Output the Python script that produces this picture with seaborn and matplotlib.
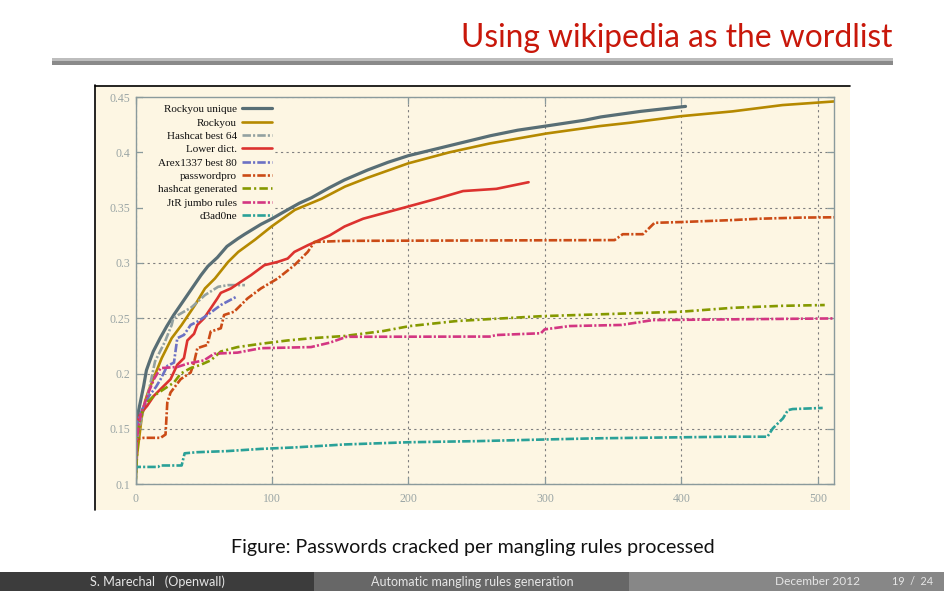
import numpy as np
import pandas as pd
import seaborn as sns
import matplotlib.pyplot as plt
from matplotlib.patches import Rectangle
from matplotlib.lines import Line2D

# values (rules processed, fraction cracked)
rockyou_unique_x = [0, 1, 2, 4, 6, 8, 10, 13, 18, 23, 28, 33, 38, 43, 48, 53, 60, 67, 75, 80, 92,
                    100, 107, 120, 129, 142, 153, 170, 185, 200, 220, 240, 260, 280, 302, 329, 341, 370, 403]
rockyou_unique_y = [0.100, 0.155, 0.165, 0.177, 0.189, 0.203, 0.210, 0.220, 0.232, 0.243, 0.253, 0.262,
                    0.271, 0.280, 0.289, 0.297, 0.305, 0.315, 0.322, 0.326, 0.335, 0.340, 0.345, 0.354,
                    0.359, 0.368, 0.375, 0.384, 0.391, 0.397, 0.403, 0.409, 0.415, 0.420, 0.424, 0.429,
                    0.432, 0.437, 0.4415]

rockyou_x = [0, 1, 2, 4.5, 7, 9.4, 14.3, 19.2, 26.5, 33.8, 43.6, 50.9, 58.2, 67.9, 75.3, 87.5, 99.7,
             116.8, 136.3, 153.4, 170, 199.7, 230, 259.5, 301, 340, 362, 400, 437.4, 474, 512]
rockyou_y = [0.100, 0.125, 0.135, 0.160, 0.175, 0.184, 0.199, 0.214, 0.232, 0.244, 0.262, 0.277, 0.286,
             0.301, 0.310, 0.321, 0.333, 0.348, 0.358, 0.369, 0.377, 0.390, 0.400, 0.408, 0.417,
             0.4237, 0.4267, 0.4327, 0.437, 0.4427, 0.446]

hashcat64_x = [0, 1, 4.5, 9, 14.3, 21.6, 26.5, 27.7, 31.3, 41.1, 50.9, 60.6, 67.9, 80.2]
hashcat64_y = [0.100, 0.140, 0.160, 0.180, 0.211, 0.229, 0.244, 0.250, 0.253, 0.260, 0.271, 0.2785,
               0.280, 0.280]

lower_x = [0, 1, 2, 3.7, 8.6, 13.5, 18.4, 25.7, 30.6, 35.5, 38, 42.9, 45.3, 50.2, 55.1, 60, 62.5,
           69.9, 77.2, 84.6, 94.4, 104.2, 111.5, 116.4, 126.2, 142.4, 153.2, 166.8, 199.7, 220.5,
           240, 264.4, 288]
lower_y = [0.105, 0.150, 0.159, 0.164, 0.171, 0.180, 0.186, 0.195, 0.208, 0.214, 0.230, 0.236, 0.244,
           0.250, 0.259, 0.268, 0.273, 0.277, 0.283, 0.289, 0.298, 0.301, 0.304, 0.310, 0.316,
           0.325, 0.333, 0.340, 0.351, 0.358, 0.365, 0.367, 0.373]

arex_x = [0, 1.5, 5, 10, 15, 18.4, 23.3, 28.2, 30.6, 35.5, 40.4, 45.3, 52.7, 62.5, 74.7]
arex_y = [0.110, 0.156, 0.168, 0.180, 0.188, 0.195, 0.207, 0.210, 0.232, 0.235, 0.244, 0.247, 0.253,
          0.262, 0.270]

passwordpro_x = [0, 1.2, 6.1, 18.4, 22, 23.3, 25.7, 33.1, 40.4, 42.9, 45.3, 52.7, 55.1, 62.5, 64.9,
                 72.3, 82.1, 91.9, 104.2, 116.4, 126.2, 131.1, 153, 351, 357, 371.8, 380.3, 400,
                 437.6, 457, 486.5, 512]
passwordpro_y = [0.123, 0.141, 0.142, 0.142, 0.145, 0.174, 0.183, 0.195, 0.201, 0.210, 0.223, 0.226,
                 0.238, 0.241, 0.253, 0.256, 0.268, 0.277, 0.286, 0.298, 0.310, 0.319, 0.320, 0.3207,
                 0.326, 0.326, 0.3363, 0.337, 0.3388, 0.340, 0.341, 0.3413]

hc_generated_x = [0, 1.2, 2.5, 6.1, 13.5, 20.8, 28.2, 33.1, 40.4, 47.8, 55.1, 62.5, 74.7, 91.9, 111.5,
                  128.6, 153, 181.4, 201, 235, 259.5, 298.5, 340, 400, 437.6, 474, 505]
hc_generated_y = [0.100, 0.129, 0.153, 0.171, 0.180, 0.186, 0.192, 0.200, 0.205, 0.208, 0.212, 0.220,
                  0.224, 0.227, 0.230, 0.232, 0.234, 0.2385, 0.243, 0.2475, 0.2493, 0.252, 0.2536,
                  0.256, 0.2595, 0.2613, 0.262]

jtr_x = [0, 1.2, 3.7, 8.6, 13.5, 18.4, 30.6, 38, 50.2, 57.6, 74.7, 91.9, 128.6, 142.4, 154.6, 259.5,
         264.4, 297, 299.8, 318, 356, 379, 457, 512]
jtr_y = [0.117, 0.144, 0.162, 0.180, 0.195, 0.205, 0.206, 0.209, 0.212, 0.218, 0.219, 0.223, 0.224,
         0.228, 0.2333, 0.2335, 0.2349, 0.2365, 0.240, 0.243, 0.244, 0.2484, 0.2493, 0.2499]

d3ad0ne_x = [0, 1, 16.5, 18, 33.8, 36, 45, 67, 92, 116, 140, 153, 200, 250, 300, 340, 435, 463, 467,
             474.4, 478, 481.5, 503.5]
d3ad0ne_y = [0.112, 0.1157, 0.1157, 0.117, 0.117, 0.128, 0.129, 0.130, 0.132, 0.1333, 0.135, 0.136,
             0.138, 0.139, 0.1405, 0.1416, 0.143, 0.143, 0.1506, 0.1596, 0.167, 0.168, 0.169]

names = ['Rockyou unique', 'Rockyou', 'Hashcat best 64', 'Lower dict.', 'Arex1337 best 80',
         'passwordpro', 'hashcat generated', 'JtR jumbo rules', 'd3ad0ne']
xs = [rockyou_unique_x, rockyou_x, hashcat64_x, lower_x, arex_x, passwordpro_x, hc_generated_x,
      jtr_x, d3ad0ne_x]
ys = [rockyou_unique_y, rockyou_y, hashcat64_y, lower_y, arex_y, passwordpro_y, hc_generated_y,
      jtr_y, d3ad0ne_y]

# solarized-ish gnuplot palette
colors = ['#586e75', '#b58900', '#93a1a1', '#dc322f', '#6c71c4', '#cb4b16', '#859900', '#d33682',
          '#2aa198']
dashdot = (0, (3.2, 0.8, 0.8, 0.8))
styles = ['-', '-', dashdot, '-', dashdot, dashdot, (0, (3.2, 1.2, 0.8, 1.2)), dashdot, dashdot]
widths = [2.3, 1.9, 1.9, 1.9, 1.9, 1.9, 1.9, 1.9, 1.9]

sns.set_theme(style='ticks')
plt.rcParams['font.family'] = ['DejaVu Sans']

W, H = 945, 591
fig = plt.figure(figsize=(W / 100, H / 100), dpi=100)
fig.patch.set_facecolor('white')
renderer = fig.canvas.get_renderer()

def fx(px):
    return px / W

def fy(py):
    return 1 - py / H

def fit_text(x, y, s, width_px, **kw):
    # shrink/grow the font so the string spans the width measured on the slide
    t = fig.text(x, y, s, **kw)
    w = t.get_window_extent(renderer).width
    t.set_fontsize(t.get_fontsize() * width_px / w)
    return t

cream = '#fdf6e3'
axis_col = '#8a9a9c'
sans = ['Lato', 'DejaVu Sans']

# slide decoration
fig.add_artist(Rectangle((fx(95), fy(510)), fx(850) - fx(95), fy(85) - fy(510),
                         transform=fig.transFigure, facecolor=cream, edgecolor='none', zorder=0))
fig.add_artist(Line2D([fx(95), fx(850)], [fy(85.5), fy(85.5)], transform=fig.transFigure,
                      color='black', lw=1.2))
fig.add_artist(Line2D([fx(95.5), fx(95.5)], [fy(85), fy(510)], transform=fig.transFigure,
                      color='black', lw=1.2))
fig.add_artist(Rectangle((fx(52), fy(61)), fx(893) - fx(52), fy(58.3) - fy(61),
                         transform=fig.transFigure, facecolor='#bdbdbd', edgecolor='none'))
fig.add_artist(Rectangle((fx(52), fy(64.5)), fx(893) - fx(52), fy(61) - fy(64.5),
                         transform=fig.transFigure, facecolor='#8a8a8a', edgecolor='none'))
fit_text(fx(892), fy(46.7), 'Using wikipedia as the wordlist', 432, ha='right', va='baseline',
         fontsize=23, color='#c8170a', family=sans)
fit_text(fx(473), fy(547), 'Figure: Passwords cracked per mangling rules processed', 482,
         ha='center', va='center', fontsize=12, color='#111111', family=sans)

# footer
for x0, x1, c in [(0, 314, '#3c3c3c'), (314, 629, '#676767'), (629, 945, '#878787')]:
    fig.add_artist(Rectangle((fx(x0), 0), fx(x1) - fx(x0), fy(571.5), transform=fig.transFigure,
                             facecolor=c, edgecolor='none'))
foot = dict(va='center', fontsize=8, color='#e6e6e6', family=sans)
fit_text(fx(157), fy(581.5), 'S. Marechal   (Openwall)', 135, ha='center', **foot)
fit_text(fx(472), fy(581.5), 'Automatic mangling rules generation', 203, ha='center', **foot)
fit_text(fx(860), fy(581.5), 'December 2012', 85, ha='right', **foot)
fit_text(fx(933), fy(581.5), '19  /  24', 41.5, ha='right', **foot)

# the chart
ax = fig.add_axes([fx(135.5), fy(484.3), fx(834.3) - fx(135.5), fy(97) - fy(484.3)])
ax.set_facecolor(cream)
for name, x, y, c, ls, lw in zip(names, xs, ys, colors, styles, widths):
    sns.lineplot(x=x, y=y, ax=ax, color=c, linestyle=ls, linewidth=lw, label=name,
                 estimator=None, sort=False)

ax.set_xlim(0, 512)
ax.set_ylim(0.1, 0.45)
ax.set_xticks([0, 100, 200, 300, 400, 500])
ax.set_yticks([0.1, 0.15, 0.2, 0.25, 0.3, 0.35, 0.4, 0.45])
ax.set_yticklabels(['0.1', '0.15', '0.2', '0.25', '0.3', '0.35', '0.4', '0.45'])
ax.grid(True, color='#7f7f7f', linestyle=(0, (2, 3)), linewidth=0.8)
for s in ax.spines.values():
    s.set_color(axis_col)
    s.set_linewidth(1.0)
ax.tick_params(direction='in', length=5, width=0.9, color=axis_col, labelcolor='#9aa5a5',
               top=True, right=True, labelsize=8.5)
ax.tick_params(axis='x', pad=6)
ax.tick_params(axis='y', pad=3.5)
for t in ax.get_xticklabels() + ax.get_yticklabels():
    t.set_family(['Liberation Serif', 'DejaVu Serif'])

h, l = ax.get_legend_handles_labels()
leg = ax.legend(h, l, loc='upper right', bbox_to_anchor=(fx(272), fy(104.5)),
                bbox_transform=fig.transFigure, frameon=False, markerfirst=False,
                borderpad=0, borderaxespad=0, labelspacing=0.32, handlelength=2.7,
                handletextpad=0.45, prop={'family': ['Liberation Serif', 'DejaVu Serif'], 'size': 8})
for t in leg.get_texts():
    t.set_color('#111111')

# opaque key box like gnuplot's, hiding the grid behind the legend
lb = leg.get_window_extent(renderer).transformed(ax.transAxes.inverted())
ab = ax.get_window_extent(renderer)
pad_x, pad_y = 3 / ab.width, 4 / ab.height
ax.add_patch(Rectangle((7 / ab.width, lb.y0 - pad_y), lb.x1 + pad_x - 7 / ab.width,
                       1 - (lb.y0 - pad_y) - 1.5 / ab.height, transform=ax.transAxes,
                       facecolor=cream, edgecolor='none', zorder=1))

fig.savefig('out.png', dpi=100)
